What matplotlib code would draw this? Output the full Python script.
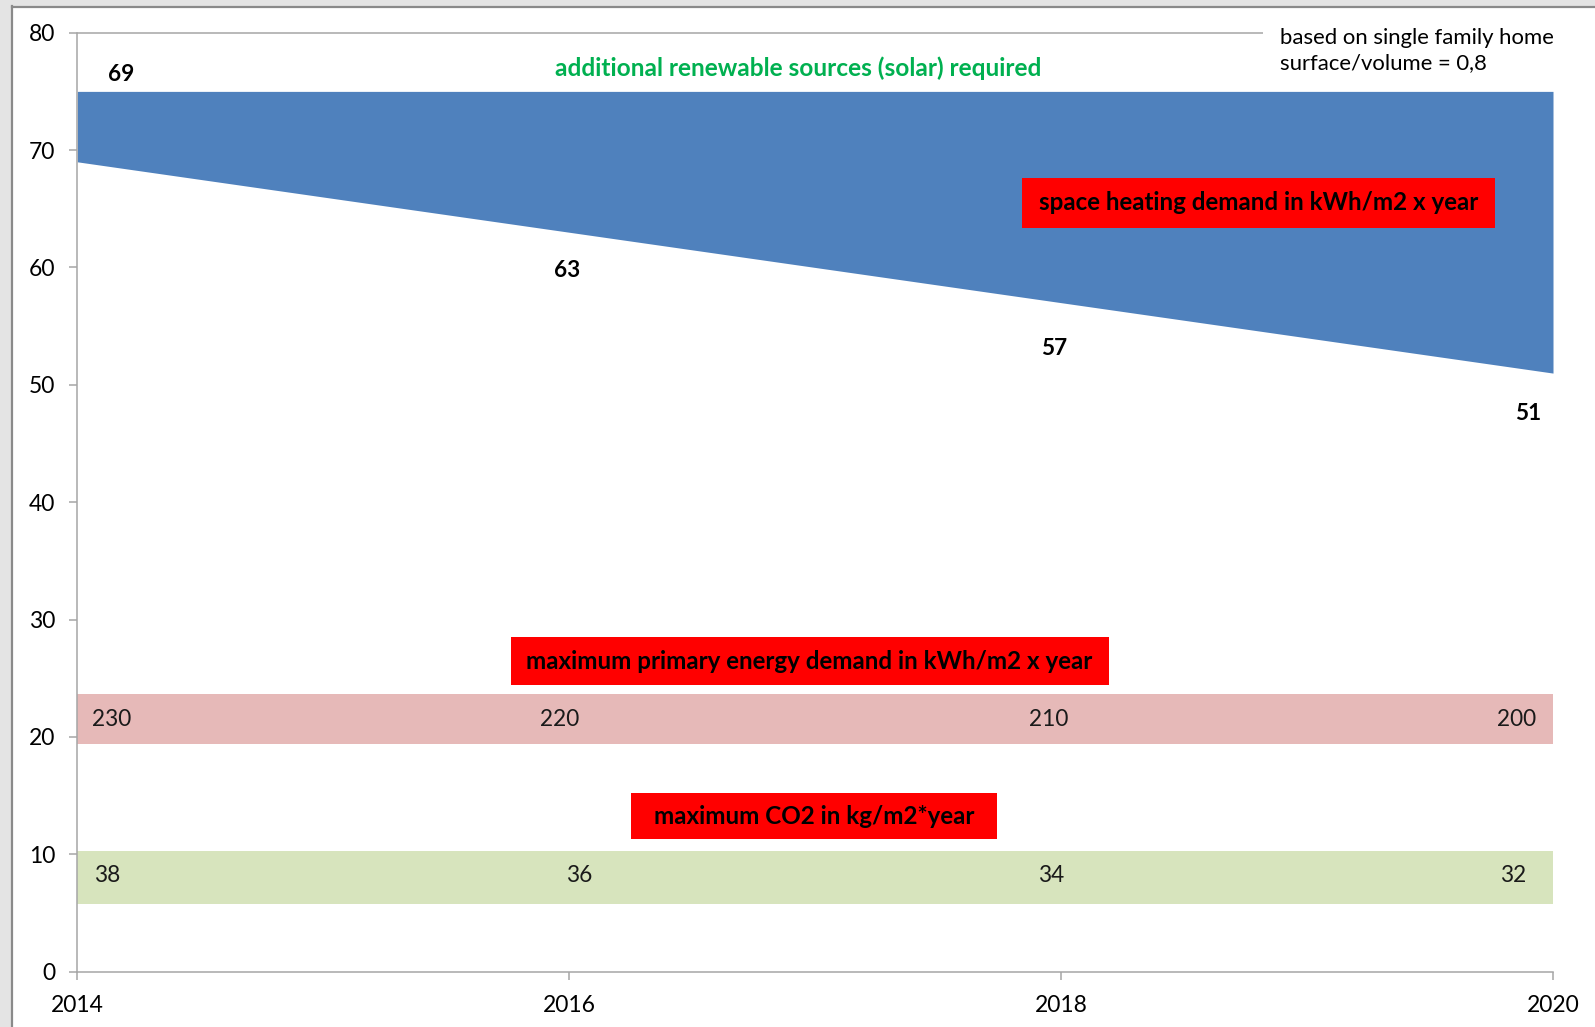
import matplotlib
matplotlib.use('Agg')
import matplotlib.pyplot as plt
from matplotlib.patches import Rectangle

plt.rcParams['font.family'] = ['Lato', 'DejaVu Sans']

# data
years = [2014, 2016, 2018, 2020]
heating_demand = [69, 63, 57, 51]          # kWh/m2 x year (blue area lower edge)
solar_top = 75                              # upper edge of the blue area
primary_energy = [230, 220, 210, 200]       # kWh/m2 x year
co2_limit = [38, 36, 34, 32]                # kg/m2*year
primary_band = (19.4, 23.7)
co2_band = (5.8, 10.3)
y_ticks = [0, 10, 20, 30, 40, 50, 60, 70, 80]

W, H, DPI = 1595, 1027, 100
fig = plt.figure(figsize=(W / DPI, H / DPI), dpi=DPI, facecolor='white')

# window frame look (grey strip left/top)
fig.patches.append(Rectangle((0, 0), 12 / W, 1, transform=fig.transFigure,
                             facecolor='#e4e4e4', edgecolor='none', zorder=0))
fig.patches.append(Rectangle((0, 1 - 6 / H), 1, 6 / H, transform=fig.transFigure,
                             facecolor='#e4e4e4', edgecolor='none', zorder=0))
fig.add_artist(plt.Line2D([12.5 / W, 12.5 / W], [0, 1 - 6 / H], transform=fig.transFigure,
                          color='#8a8a8a', lw=1.6))
fig.add_artist(plt.Line2D([12.5 / W, 1], [1 - 6.5 / H, 1 - 6.5 / H], transform=fig.transFigure,
                          color='#8a8a8a', lw=1.6))

ax = fig.add_axes([77.3 / W, 1 - 971.7 / H, (1553 - 77.3) / W, (971.7 - 32.7) / H])
ax.set_xlim(years[0], years[-1])
ax.set_ylim(0, 80)

# bands
ax.fill_between(years, heating_demand, solar_top, color='#4f81bd', lw=0, zorder=2)
ax.fill_between([years[0], years[-1]], primary_band[0], primary_band[1],
                color='#e6b9b8', lw=0, zorder=2)
ax.fill_between([years[0], years[-1]], co2_band[0], co2_band[1],
                color='#d7e4bd', lw=0, zorder=2)

# top gridline (interrupted by the note at the right)
ax.hlines(80, years[0], 2018.82, color='#a6a6a6', lw=1.1, zorder=1, clip_on=False)

# value labels
heat_off = [(0.18, 7.4), (-0.01, -3.3), (-0.03, -3.9), (-0.10, -3.45)]
for x, v, (dx, dy) in zip(years, heating_demand, heat_off):
    ax.text(x + dx, v + dy, str(v), ha='center', va='center', fontsize=16.3,
            fontweight='bold', color='black', zorder=5)

prim_off = [0.14, -0.04, -0.05, -0.15]
for x, v, dx in zip(years, primary_energy, prim_off):
    ax.text(x + dx, 21.5, str(v), ha='center', va='center', fontsize=16.3,
            color='#1a1a1a', zorder=5)

co2_off = [0.12, 0.04, -0.04, -0.16]
for x, v, dx in zip(years, co2_limit, co2_off):
    ax.text(x + dx, 8.2, str(v), ha='center', va='center', fontsize=16.3,
            color='#1a1a1a', zorder=5)

# red caption boxes
boxes = [
    ((2017.84, 63.4), 1.925, 4.2, 'space heating demand in kWh/m2 x year'),
    ((2015.762, 24.4), 2.431, 4.1, 'maximum primary energy demand in kWh/m2 x year'),
    ((2016.25, 11.27), 1.49, 3.98, 'maximum CO2 in kg/m2*year'),
]
for (bx, by), bw, bh, label in boxes:
    ax.add_patch(Rectangle((bx, by), bw, bh, facecolor='#ff0000', edgecolor='none', zorder=4))
    ax.text(bx + bw / 2, by + bh / 2, label, ha='center', va='center',
            fontsize=17.4, fontweight='bold', color='black', zorder=5)

ax.text(2016.93, 76.95, 'additional renewable sources (solar) required', ha='center',
        va='center', fontsize=17.6, fontweight='bold', color='#00b050', zorder=5)

ax.text(2018.89, 78.5, 'based on single family home\nsurface/volume = 0,8', ha='left',
        va='center', fontsize=15.9, color='black', linespacing=1.3, zorder=5,
        clip_on=False)

# axes styling
for side in ['top', 'right']:
    ax.spines[side].set_visible(False)
for side in ['left', 'bottom']:
    ax.spines[side].set_color('#a6a6a6')
    ax.spines[side].set_linewidth(1.1)
    ax.spines[side].set_zorder(3)

ax.set_yticks(y_ticks)
ax.set_xticks(years)
ax.set_xticklabels([str(y) for y in years])
ax.tick_params(axis='both', colors='#a6a6a6', labelcolor='black', labelsize=16.5,
               length=6, width=1.1)
ax.tick_params(axis='y', pad=10)
ax.tick_params(axis='x', pad=11)

fig.savefig('out.png', dpi=DPI)
